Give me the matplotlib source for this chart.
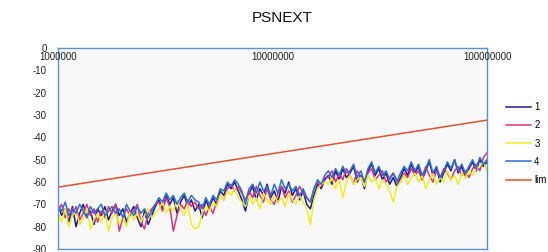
import numpy as np
import matplotlib
matplotlib.use("Agg")
import matplotlib.pyplot as plt

plt.rcParams['font.family'] = ['Liberation Sans', 'DejaVu Sans']
plt.rcParams['axes.unicode_minus'] = False

s1 = [-70, -75, -72, -78, -71, -80, -74, -70, -76, -73, -79, -72, -75, -71, -77, -73, -70, -75, -72, -78, -74, -71, -76, -80, -73, -79, -75, -71,
      -68, -72, -66, -70, -67, -74, -69, -66, -71, -68, -73,
      -70, -76, -68, -72, -67, -70, -64, -66,
      -61, -63, -60, -64,
      -68, -73, -65, -62, -68, -63, -66, -61, -67, -64, -69, -62, -65, -60, -66, -63, -68, -64, -70,
      -72, -66, -61, -63, -59,
      -57, -61, -55, -59, -54, -58, -56, -53, -60, -57, -63, -55, -52, -57, -54, -59, -56, -61, -58, -62,
      -58, -54, -57, -52, -56, -53, -59, -55, -51, -57, -54, -60, -56, -52, -55, -50, -56, -53, -58, -54, -51, -55, -50, -53, -51]

s2 = [-73, -70, -76, -72, -75, -71, -77, -74, -70, -75, -72, -78, -73, -76, -71, -74, -70, -82, -76, -72, -75, -73, -70, -78, -81, -74, -72, -70,
      -69, -73, -67, -71, -82, -75, -70, -72, -68, -71, -69,
      -72, -70, -75, -71, -74, -69, -66, -68,
      -63, -61, -64, -62,
      -65, -68, -64, -67, -62, -66, -69, -63, -68, -70, -65, -62, -67, -64, -69, -66, -62, -65, -67,
      -69, -63, -60, -62, -58,
      -58, -55, -60, -56, -59, -54, -57, -61, -55, -58, -60, -56, -54, -59, -57, -55, -60, -58, -56, -59,
      -60, -56, -58, -54, -57, -55, -59, -53, -57, -60, -55, -58, -54, -56, -59, -55, -53, -57, -55, -58, -54, -52, -55, -49, -47]

s3 = [-74, -78, -72, -80, -75, -73, -79, -76, -72, -81, -77, -74, -78, -73, -82, -76, -74, -79, -75, -80, -73, -77, -74, -78, -75, -72, -76, -74,
      -72, -69, -74, -71, -73, -68, -72, -75, -70, -79, -81,
      -80, -74, -71, -73, -69, -71, -66, -68,
      -64, -66, -63, -67,
      -69, -71, -66, -70, -67, -72, -65, -68, -70, -66, -69, -67, -71, -65, -68, -70, -66, -69, -72,
      -79, -68, -63, -61, -60,
      -61, -58, -63, -59, -67, -60, -57, -61, -59, -58, -62, -57, -60, -58, -63, -59, -61, -64, -69, -62,
      -60, -57, -61, -58, -56, -60, -57, -63, -59, -56, -61, -58, -60, -55, -59, -57, -61, -56, -58, -55, -57, -54, -53, -51, -55]

s4 = [-71, -73, -69, -75, -72, -74, -70, -73, -76, -71, -74, -72, -70, -75, -73, -71, -74, -72, -76, -70, -73, -75, -71, -74, -72, -76, -73, -70,
      -67, -69, -65, -68, -66, -70, -67, -65, -69, -66, -68,
      -69, -72, -67, -70, -66, -68, -63, -64,
      -60, -62, -59, -61,
      -64, -70, -63, -61, -65, -60, -64, -62, -66, -61, -65, -59, -63, -61, -64, -62, -66, -63, -67,
      -69, -63, -59, -61, -57,
      -55, -58, -54, -57, -53, -56, -55, -52, -58, -55, -60, -54, -51, -56, -53, -57, -55, -59, -56, -60,
      -56, -53, -55, -51, -55, -52, -57, -54, -50, -56, -53, -58, -55, -51, -54, -50, -55, -52, -56, -53, -50, -54, -49, -52, -50]

# frequency sweep (Hz), log spaced from 1 MHz to 100 MHz
freq = np.geomspace(1e6, 1e8, len(s1))

lim_freq = [1e6, 1e8]
lim_vals = [-62.3, -32.3]

series_names = ['1', '2', '3', '4', 'lim']
series_colors = ['#1c1c8a', '#e0307f', '#f0ee1e', '#2b6fd4', '#e2502f']

xtick_vals = [1e6, 1e7, 1e8]
xtick_labels = ['1000000', '10000000', '100000000']
ytick_vals = [0, -10, -20, -30, -40, -50, -60, -70, -80, -90]

fig = plt.figure(figsize=(5.48, 2.52), dpi=100, facecolor='white')
ax = fig.add_axes([58/548, 1-249/252, (487-58)/548, (249-48)/252])
ax.set_facecolor('#f8f8f8')

for data, name, col in zip([s1, s2, s3, s4], series_names[:4], series_colors[:4]):
    ax.plot(freq, data, color=col, lw=1.1, label=name)
ax.plot(lim_freq, lim_vals, color=series_colors[4], lw=1.1, label=series_names[4])

ax.set_xscale('log')
ax.set_xlim(1e6, 1e8)
ax.set_ylim(-90, 0)
ax.set_xticks([])
ax.minorticks_off()
ax.set_yticks(ytick_vals)
ax.set_yticklabels([str(v) for v in ytick_vals])
ax.tick_params(axis='y', labelsize=7, length=0, pad=8, colors='#222222')
for sp in ax.spines.values():
    sp.set_color('#5b8fd6')
    sp.set_linewidth(1.0)

for v, lab in zip(xtick_vals, xtick_labels):
    ax.text(v, 0.955, lab, transform=ax.get_xaxis_transform(), ha='center', va='center',
            fontsize=7, color='#222222', clip_on=False)

fig.text(282/548, 1-18/252, 'PSNEXT', ha='center', va='center', fontsize=11, color='#111111')

fig.legend(loc='upper left', bbox_to_anchor=(506/548, 1-102/252), frameon=False,
           fontsize=7, handlelength=2.6, handletextpad=0.3, labelspacing=0.85,
           borderaxespad=0, borderpad=0)

fig.savefig('out.png', dpi=100, facecolor='white')
